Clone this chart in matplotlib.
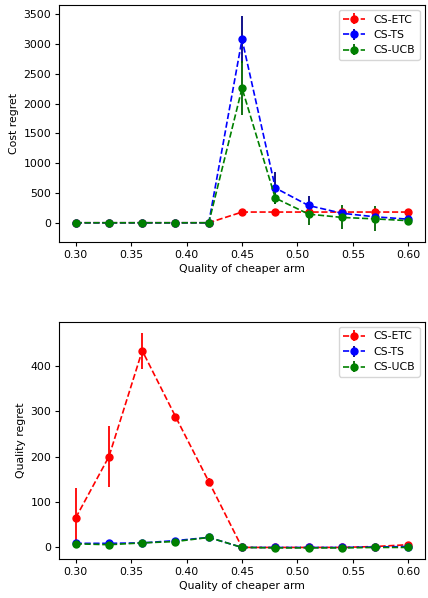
import numpy as np
import matplotlib
matplotlib.use('Agg')
import matplotlib.pyplot as plt

quality = [0.30, 0.33, 0.36, 0.39, 0.42, 0.45, 0.48, 0.51, 0.54, 0.57, 0.60]

# cost regret
cost_etc = [0, 0, 0, 0, 0, 180, 180, 180, 180, 180, 180]
cost_etc_err = [2, 2, 2, 2, 2, 10, 10, 10, 10, 10, 10]
cost_ts = [0, 0, 0, 0, 0, 3080, 585, 290, 160, 100, 60]
cost_ts_err = [2, 2, 2, 2, 2, 400, 270, 160, 60, 40, 20]
cost_ucb = [0, 0, 0, 0, 0, 2260, 415, 145, 90, 65, 35]
cost_ucb_err = [2, 2, 2, 2, 2, 450, 100, 190, 200, 210, 20]

# quality regret
qual_etc = [65, 200, 433, 288, 145, 0, 0, 0, 0, 2, 6]
qual_etc_err = [65, 67, 40, 5, 8, 1, 1, 1, 1, 2, 3]
qual_ts = [9, 9, 10, 15, 22, 0, 0, 0, 0, 1, 2]
qual_ts_err = [2, 2, 2, 3, 5, 1, 1, 1, 1, 1, 1]
qual_ucb = [8, 6, 10, 13, 22, 0, -1, -1, -1, 0, 0]
qual_ucb_err = [3, 6, 3, 3, 8, 1, 1, 1, 1, 1, 1]

labels = ['CS-ETC', 'CS-TS', 'CS-UCB']
colors = ['red', 'blue', 'green']
ecolors = ['red', 'navy', 'darkgreen']

fs = 7.8
plt.rcParams['axes.linewidth'] = 0.8
plt.rcParams['xtick.major.size'] = 2.8
plt.rcParams['ytick.major.size'] = 2.8
plt.rcParams['xtick.major.pad'] = 2.7
plt.rcParams['ytick.major.pad'] = 2.7
plt.rcParams['axes.labelpad'] = 3.0

fig = plt.figure(figsize=(4.28, 5.98), dpi=100)
ax1 = fig.add_axes([0.138, 0.595, 0.855, 0.397])
ax2 = fig.add_axes([0.138, 0.065, 0.855, 0.397])


def draw(ax, series, errs, ylabel):
    for y, e, lab, c, ec in zip(series, errs, labels, colors, ecolors):
        ax.errorbar(quality, y, yerr=e, fmt='o--', color=c, ecolor=ec,
                    label=lab, markersize=5, linewidth=1.2, elinewidth=1.3)
    ax.set_xlabel('Quality of cheaper arm', fontsize=fs)
    ax.set_ylabel(ylabel, fontsize=fs)
    ax.tick_params(labelsize=fs)
    ax.legend(loc='upper right', fontsize=fs)


draw(ax1, [cost_etc, cost_ts, cost_ucb], [cost_etc_err, cost_ts_err, cost_ucb_err], 'Cost regret')
draw(ax2, [qual_etc, qual_ts, qual_ucb], [qual_etc_err, qual_ts_err, qual_ucb_err], 'Quality regret')

fig.savefig('out.png', dpi=100)
